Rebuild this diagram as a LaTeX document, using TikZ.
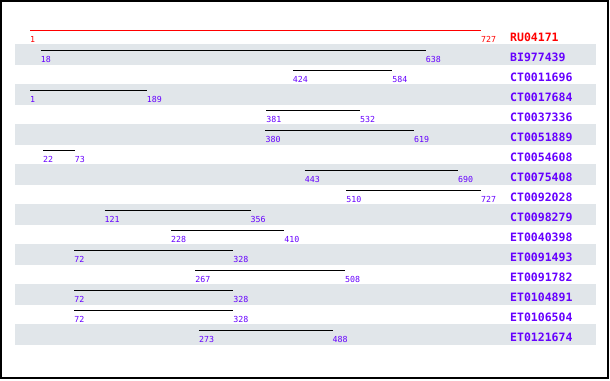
\documentclass[tikz,border=0pt]{standalone}
\usepackage{fontspec}
\setmonofont{DejaVu Sans Mono}
\definecolor{seqpurple}{RGB}{102,0,255}
\definecolor{seqred}{RGB}{255,0,0}
\definecolor{rowshade}{RGB}{225,230,234}
\tikzset{
  hitbar/.style={line width=1pt},
  hitpos/.style={anchor=base west, inner sep=0pt, yshift=-12.5pt,
    font=\ttfamily\fontsize{8.3}{9}\selectfont},
  hitname/.style={anchor=base west, inner sep=0pt,
    font=\ttfamily\bfseries\fontsize{11.5}{12}\selectfont}
}
\begin{document}
\begin{tikzpicture}[x=1pt, y=-1pt]
  \useasboundingbox (0,0) rectangle (610,380);
  \draw[line width=2pt] (1,1) rectangle (608,378);

  % shaded rows
  \foreach \k in {0,...,7}
    \fill[rowshade] (15,44+40*\k) rectangle (596,65+40*\k);

  % query
  \coordinate (s0) at (30,30);
  \coordinate (e0) at (481,30);
  \draw[hitbar, seqred] (s0)--(e0);
  \node[hitpos, text=seqred] (ls0) at (s0) {1};
  \node[hitpos, text=seqred] (le0) at (e0) {727};
  \node[hitname, text=seqred] (n0) at (510,41) {RU04171};

  % hits
  \foreach \nm/\a/\b [count=\i] in {BI977439/18/638, CT0011696/424/584,
      CT0017684/1/189, CT0037336/381/532, CT0051889/380/619,
      CT0054608/22/73, CT0075408/443/690, CT0092028/510/727,
      CT0098279/121/356, ET0040398/228/410, ET0091493/72/328,
      ET0091782/267/508, ET0104891/72/328, ET0106504/72/328,
      ET0121674/273/488}{
    \coordinate (s\i) at ({30+(\a-1)*0.6212},{30+20*\i});
    \coordinate (e\i) at ({30+(\b-1)*0.6212},{30+20*\i});
    \draw[hitbar] (s\i)--(e\i);
    \node[hitpos, text=seqpurple] (ls\i) at (s\i) {\a};
    \node[hitpos, text=seqpurple] (le\i) at (e\i) {\b};
    \node[hitname, text=seqpurple] (n\i) at (510,{41+20*\i}) {\nm};
  }
\end{tikzpicture}
\end{document}
